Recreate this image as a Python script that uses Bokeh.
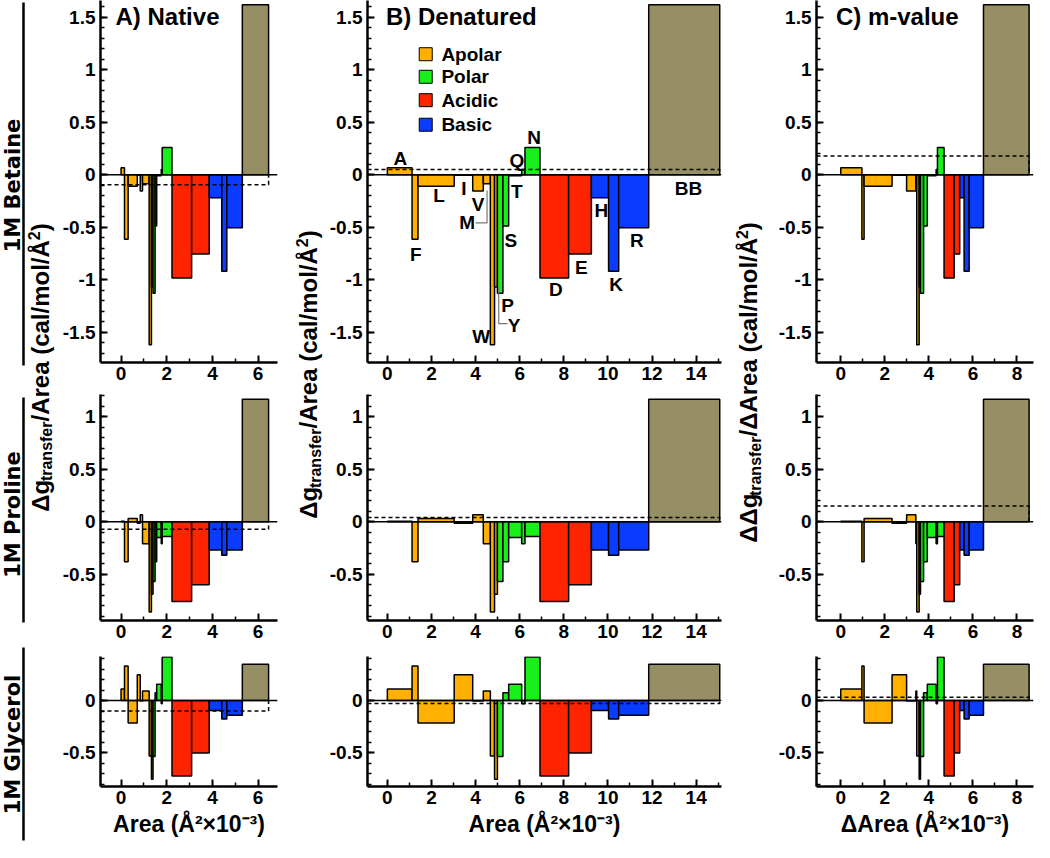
import math
import numpy as np
from bokeh.plotting import figure
from bokeh.layouts import row, column
from bokeh.models import Range1d, FixedTicker, Span, Label, ColumnDataSource
from bokeh.core.properties import value
from bokeh.embed import file_html
from bokeh.resources import INLINE

# ------------------------------------------------------------------ data
residues = ["A", "F", "L", "I", "V", "M", "W", "Y", "P", "S", "T", "Q", "N",
            "D", "E", "H", "K", "R", "BB"]
groups = ["Apolar"] * 8 + ["Polar"] * 5 + ["Acidic"] * 2 + ["Basic"] * 3 + ["Backbone"]

# bar widths: surface area (A^2 x 10^-3)
area_native = [0.15, 0.16, 0.40, 0.13, 0.10, 0.29, 0.10, 0.07, 0.09, 0.07,
               0.20, 0.04, 0.43, 0.86, 0.77, 0.55, 0.22, 0.68, 1.15]
area_denatured = [1.12, 0.27, 1.64, 0.84, 0.48, 0.32, 0.19, 0.13, 0.25, 0.26,
                  0.59, 0.15, 0.68, 1.30, 1.03, 0.78, 0.46, 1.36, 3.22]
area_delta = [0.96, 0.10, 1.27, 0.66, 0.42, 0.04, 0.11, 0.06, 0.14, 0.17,
              0.40, 0.06, 0.30, 0.46, 0.25, 0.20, 0.23, 0.65, 2.07]

# bar heights: transfer free energy per area (cal/mol/A^2)
dg_betaine = [0.067, -0.616, -0.11, -0.005, -0.156, -0.086, -1.62, -1.07, -1.13,
              -0.49, -0.01, 0.05, 0.26, -0.985, -0.755, -0.22, -0.92, -0.505, 1.62]
dg_proline = [0.005, -0.38, 0.03, -0.015, 0.067, -0.21, -0.86, -0.69, -0.57,
              -0.38, -0.15, -0.21, -0.14, -0.76, -0.60, -0.27, -0.32, -0.27, 1.165]
dg_glycerol = [0.11, 0.33, -0.215, 0.245, -0.005, 0.09, -0.53, -0.75, -0.535,
               0.075, 0.155, -0.03, 0.415, -0.72, -0.50, -0.095, -0.175, -0.14, 0.345]

# dashed average lines (native, denatured, m-value)
avg_betaine = [-0.095, 0.05, 0.178]
avg_proline = [-0.073, 0.041, 0.149]
avg_glycerol = [-0.10, -0.029, 0.032]

solvents = ["1M Betaine", "1M Proline", "1M Glycerol"]
panel_titles = ["A) Native", "B) Denatured", "C) m-value"]
x_titles = ["Area (Å²×10⁻³)", "Area (Å²×10⁻³)", "ΔArea (Å²×10⁻³)"]
legend_labels = ["Apolar", "Polar", "Acidic", "Basic"]

# residue letter annotations in panel B (top row)
label_x = [0.59, 1.29, 2.34, 3.47, 4.11, 3.62, 4.26, 5.75, 5.45, 5.60, 5.87, 5.87,
           6.65, 7.64, 8.80, 9.70, 10.37, 11.31, 13.65]
label_y = [0.152, -0.762, -0.203, -0.13, -0.283, -0.46, -1.546, -1.435, -1.244,
           -0.625, -0.165, 0.137, 0.352, -1.095, -0.886, -0.346, -1.048, -0.63, -0.133]

group_colors = {"Apolar": "#FFB000", "Polar": "#19F019", "Acidic": "#FF2400",
                "Basic": "#0A3CFF", "Backbone": "#968F63"}

FONT = "Liberation Sans"
TICK_PX = "19px"

# ------------------------------------------------------------------ layout
col_areas = [area_native, area_denatured, area_delta]
row_dg = [dg_betaine, dg_proline, dg_glycerol]
row_avg = [avg_betaine, avg_proline, avg_glycerol]

col_xrange = [(-0.9, 6.85), (-0.9, 15.15), (-1.1, 8.75)]
col_xmajor = [[0, 2, 4, 6], list(range(0, 15, 2)), [0, 2, 4, 6, 8]]
col_xminor = [[1, 3, 5], list(range(1, 16, 2)), [1, 3, 5, 7]]
col_dims = [(236, 44, 15), (408, 39, 13), (270, 52, 1)]      # width, left, right
row_dims = [(394, 32), (262, 36), (186, 56)]                  # height, bottom
row_yrange = [(-1.79, 1.66), (-0.94, 1.21), (-0.82, 0.42)]
row_ymajor = [[-1.5, -1, -0.5, 0, 0.5, 1, 1.5], [-0.5, 0, 0.5, 1], [-0.5, 0]]


def fmt(v):
    return ("%g" % v)


def style_axis(ax):
    ax.axis_line_width = 2.5
    ax.axis_line_color = "black"
    ax.major_tick_in = 7
    ax.major_tick_out = 0
    ax.minor_tick_in = 4
    ax.minor_tick_out = 0
    ax.major_tick_line_width = 2
    ax.minor_tick_line_width = 1.5
    ax.major_tick_line_color = "black"
    ax.minor_tick_line_color = "black"
    ax.major_label_text_font = FONT
    ax.major_label_text_font_size = TICK_PX
    ax.major_label_text_font_style = "bold"
    ax.major_label_text_color = "black"


def panel(ci, ri):
    w, mbl, mbr = col_dims[ci]
    h, mbb = row_dims[ri]
    p = figure(width=w, height=h, min_border_left=mbl, min_border_right=mbr,
               min_border_top=0, min_border_bottom=mbb,
               x_range=Range1d(*col_xrange[ci]), y_range=Range1d(*row_yrange[ri]),
               toolbar_location=None, output_backend="svg",
               outline_line_color=None, background_fill_color="white")
    p.grid.visible = False

    widths = np.array(col_areas[ci], dtype=float)
    right = np.cumsum(widths)
    left = right - widths
    src = ColumnDataSource(dict(left=left, right=right, top=row_dg[ri],
                                bottom=[0.0] * len(widths),
                                color=[group_colors[g] for g in groups],
                                residue=residues))
    p.quad(left="left", right="right", bottom="bottom", top="top", source=src,
           fill_color="color", line_color="black", line_width=1.5)

    p.add_layout(Span(location=0, dimension="width", line_color="black", line_width=1.4))

    avg = row_avg[ri][ci]
    x0 = col_xrange[ci][0]
    bb_end = right[-1]
    p.line([x0, bb_end, bb_end], [avg, avg, 0], line_dash="4 3", line_color="black",
           line_width=1.5)

    style_axis(p.xaxis[0])
    style_axis(p.yaxis[0])
    p.xaxis.ticker = FixedTicker(ticks=col_xmajor[ci], minor_ticks=col_xminor[ci])
    p.xaxis.major_label_overrides = {v: fmt(v) for v in col_xmajor[ci]}
    p.xaxis.major_label_standoff = 4
    ylo, yhi = row_yrange[ri]
    yminor = [round(v, 1) for v in np.arange(math.ceil(ylo * 10) / 10, yhi, 0.1)]
    p.yaxis.ticker = FixedTicker(ticks=row_ymajor[ri], minor_ticks=yminor)
    p.yaxis.major_label_overrides = {v: fmt(v) for v in row_ymajor[ri]}
    p.yaxis.major_label_standoff = 5

    if ri == 2:
        p.xaxis.axis_label = x_titles[ci]
        p.xaxis.axis_label_text_font = FONT
        p.xaxis.axis_label_text_font_size = "23px"
        p.xaxis.axis_label_text_font_style = "bold"
        p.xaxis.axis_label_text_color = "black"
        p.xaxis.axis_label_standoff = 4

    if ri == 0:
        title_x = [-0.245, -0.06, -0.22][ci]
        p.add_layout(Label(x=title_x, y=1.51, text=panel_titles[ci], text_font=FONT,
                           text_font_size="24px", text_font_style="bold",
                           text_baseline="alphabetic", text_color="black"))
    if ri == 0 and ci == 1:
        p.text(x=label_x, y=label_y, text=residues, text_align="center",
               text_baseline="middle", text_font=value(FONT), text_font_size="19px",
               text_font_style="bold", text_color="black")
        # leader lines for M and Y
        p.line([4.00, 4.52, 4.52], [-0.46, -0.46, -0.15], line_color="#777777", line_width=1.2)
        p.line([5.45, 5.05, 5.05], [-1.42, -1.42, -1.07], line_color="#777777", line_width=1.2)
        # legend
        ly = [1.148, 0.933, 0.71, 0.476]
        p.scatter(x=[1.74] * 4, y=ly, marker="square", size=13,
                  fill_color=[group_colors[g] for g in legend_labels],
                  line_color="black", line_width=1)
        p.text(x=[2.45] * 4, y=ly, text=legend_labels, text_align="left",
               text_baseline="middle", text_font=value(FONT), text_font_size="19px",
               text_font_style="bold", text_color="black")
    return p


# ------------------------------------------------------------------ strips (pixel coords)
CW = {' ': 278, '(': 333, ')': 333, '/': 278, '2': 556, 'A': 722, 'r': 389, 'e': 556,
      'a': 556, 'c': 556, 'l': 278, 'm': 889, 'o': 611, 't': 333, 'n': 611, 's': 556,
      'f': 333, 'g': 611, 'Å': 722, 'Δ': 667}
MID = 0.3465  # (ascent - descent) / 2 for Liberation Sans


def tw(s, size):
    return sum(CW.get(ch, 600) for ch in s) / 1000.0 * size


def strip(x0, x1):
    p = figure(width=x1 - x0, height=842, x_range=Range1d(x0, x1), y_range=Range1d(850, 8),
               min_border=0, toolbar_location=None, output_backend="svg",
               outline_line_color=None, x_axis_location=None, y_axis_location=None)
    p.grid.visible = False
    return p


def vtitle(p, xc, yc, pieces, main):
    # xc: centre of the main-size text; pieces: (text, size, baseline shift)
    xb = xc + MID * main
    total = sum(tw(t, s) for t, s, _ in pieces)
    y = yc + total / 2.0
    for t, s, sh in pieces:
        p.text(x=[xb + sh - MID * s], y=[y], text=[t], angle=math.pi / 2, text_align="left",
               text_baseline="middle", text_font=value(FONT),
               text_font_size="%dpx" % s, text_font_style="bold", text_color="black")
        y -= tw(t, s)


MAIN, SUB = 24, 16
title_ab = [("Δg", MAIN, 0), ("transfer", SUB, 4), ("/Area (cal/mol/Å", MAIN, 0),
            ("2", SUB, -9), (")", MAIN, 0)]
title_c = [("ΔΔg", MAIN, 0), ("transfer", SUB, 4), ("/ΔArea (cal/mol/Å", MAIN, 0),
           ("2", SUB, -9), (")", MAIN, 0)]

s0 = strip(8, 64)
s0.text(x=[20.3, 20.3, 20.3], y=[193, 522, 752], text=solvents, angle=math.pi / 2,
        text_align="center", text_baseline="middle",
        text_font=value("DejaVu Sans"), text_font_size="21px",
        text_font_style="bold", text_color="black")
s0.segment(x0=[31] * 3, y0=[10, 405, 655], x1=[31] * 3, y1=[373, 630, 848],
           line_color="black", line_width=2.5)
vtitle(s0, 47.5, 375, title_ab, MAIN)

s1 = strip(300, 334)
vtitle(s1, 316, 382, title_ab, MAIN)

s2 = strip(742, 772)
vtitle(s2, 756, 390, title_c, MAIN)

cols = []
for ci in range(3):
    cols.append(column([panel(ci, ri) for ri in range(3)], spacing=0))

layout = row([s0, cols[0], s1, cols[1], s2, cols[2]], spacing=0)

open("out.html", "w").write(file_html(layout, INLINE))
